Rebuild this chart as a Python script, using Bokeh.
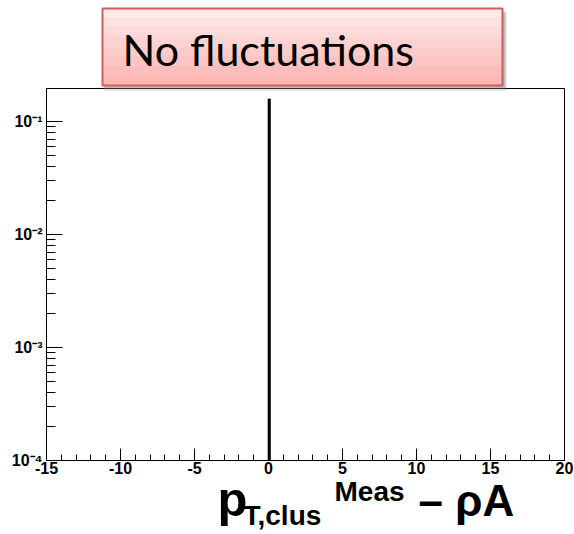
from bokeh.plotting import figure
from bokeh.layouts import column
from bokeh.models import FixedTicker, CustomJSTickFormatter, Range1d, ColumnDataSource
from bokeh.core.properties import value
from bokeh.embed import file_html
from bokeh.resources import INLINE

# ---- data ----
bin_left = [0.0]
bin_right = [0.1]
bin_content = [0.157]
x_major = [-15, -10, -5, 0, 5, 10, 15, 20]
x_minor = list(range(-15, 21))
y_major = [1e-4, 1e-3, 1e-2, 1e-1]
y_minor = [m * 10.0 ** e for e in range(-4, 0) for m in range(2, 10)]
title_text = "No fluctuations"
xtitle_parts = ["p", "T,clus", "Meas", "\u2013 \u03c1A"]

W, H = 574, 534
FL, FR, FT, FB = 46, 564, 88, 460

# ---------------- main histogram figure ----------------
p = figure(width=W, height=H, output_backend="svg", toolbar_location=None,
           x_range=Range1d(-15, 20), y_range=Range1d(1e-4, 0.196), y_axis_type="log",
           min_border_left=FL, min_border_right=W - FR, min_border_top=FT,
           min_border_bottom=H - FB)
p.title.visible = False
p.background_fill_color = "white"
p.border_fill_color = "white"
p.outline_line_color = "black"
p.outline_line_width = 1
p.grid.visible = False

src = ColumnDataSource(dict(left=bin_left, right=bin_right, top=bin_content,
                            bottom=[1e-6] * len(bin_left)))
p.quad(left="left", right="right", top="top", bottom="bottom", source=src,
       fill_color="black", line_color="black", line_width=1.6)

for ax in (p.xaxis[0], p.yaxis[0]):
    ax.axis_line_color = "black"
    ax.major_tick_line_color = "black"
    ax.minor_tick_line_color = "black"
    ax.major_tick_out = 0
    ax.minor_tick_out = 0
    ax.major_label_text_font = "Liberation Sans"
    ax.major_label_text_font_style = "bold"
    ax.major_label_text_font_size = "16px"
    ax.major_label_text_color = "black"

p.xaxis.ticker = FixedTicker(ticks=x_major, minor_ticks=x_minor)
p.xaxis.major_tick_in = 12
p.xaxis.minor_tick_in = 6
p.xaxis.major_label_standoff = 1
p.xaxis.formatter = CustomJSTickFormatter(code="return String(tick);")

p.yaxis.ticker = FixedTicker(ticks=y_major, minor_ticks=y_minor)
p.yaxis.major_tick_in = 16
p.yaxis.minor_tick_in = 9
p.yaxis.major_label_standoff = 4
p.yaxis.formatter = CustomJSTickFormatter(code="""
const sup = {'-':'\u207b','0':'\u2070','1':'\u00b9','2':'\u00b2','3':'\u00b3','4':'\u2074',
             '5':'\u2075','6':'\u2076','7':'\u2077','8':'\u2078','9':'\u2079'};
const e = String(Math.round(Math.log10(tick)));
return '10' + e.split('').map(c => sup[c]).join('');
""")

# ---------------- transparent overlay for texts outside the frame ----------------
# (its frame is aligned with the main frame horizontally, so x is in page pixels)
q = figure(width=W, height=H, output_backend="svg", toolbar_location=None,
           x_range=Range1d(FL, FR), y_range=Range1d(H, 0),
           x_axis_type=None, y_axis_type=None, min_border=0)
q.title.visible = False
q.outline_line_color = None
q.background_fill_color = None
q.border_fill_color = None
q.grid.visible = False
q.margin = (-H, 0, 0, 0)

# title box: shadow, vertical gradient, border
bx0, bx1, by0, by1 = 102, 502, 8, 85
q.quad(left=[bx0 + 2], right=[bx1 + 4], top=[by0 + 4], bottom=[by1 + 5],
       fill_color="#808080", fill_alpha=0.25, line_color=None)
q.quad(left=[bx0 + 1], right=[bx1 + 3], top=[by0 + 3], bottom=[by1 + 3],
       fill_color="#808080", fill_alpha=0.35, line_color=None)
grad = ["#fee8e8", "#fee1e0", "#fddad9", "#fdd3d2", "#fcccca", "#fcc5c3", "#fbbebc", "#fbb8b6"]
n = len(grad)
step = (by1 - by0) / n
q.quad(left=[bx0] * n, right=[bx1] * n,
       top=[by0 + step * i for i in range(n)],
       bottom=[by0 + step * (i + 1) for i in range(n)],
       fill_color=grad, line_color=grad, line_width=0.5)
q.quad(left=[bx0], right=[bx1], top=[by0], bottom=[by1],
       fill_alpha=0, line_color="#cf5d5a", line_width=2)

SHIFT = 0.37  # measured baseline correction (fraction of font size)
q.text(x=[122], y=[65 - SHIFT * 43], text=[title_text], text_font=value("Lato"),
       text_font_size="43px", text_color="black", text_baseline="alphabetic")

# x-axis title pieces
xt_x = [217, 243, 334, 418]
xt_y = [517, 525, 501, 516]
xt_size = [49, 28, 28, 44]
for x, y, t, s in zip(xt_x, xt_y, xtitle_parts, xt_size):
    q.text(x=[x], y=[y - SHIFT * s], text=[t], text_font=value("Liberation Sans"),
           text_font_style="bold", text_font_size=f"{s}px", text_color="black",
           text_baseline="alphabetic")

layout = column(p, q, spacing=0)
open("out.html", "w").write(file_html(layout, INLINE))
